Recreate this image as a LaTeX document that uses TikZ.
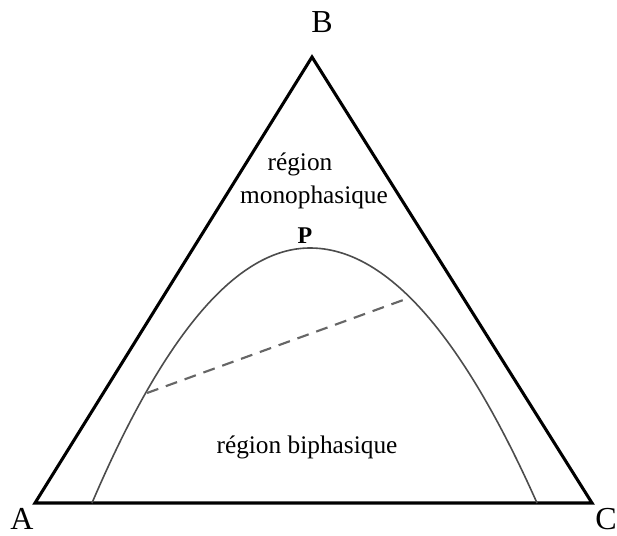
\documentclass[tikz,border=0pt]{standalone}
\usepackage{fontspec}
\setmainfont{Liberation Serif}
\begin{document}
\begin{tikzpicture}[x=0.75pt,y=-0.75pt,
  tri/.style={line width=2.3pt,line join=miter},
  curv/.style={line width=1.2pt,draw=black!70},
  tie/.style={line width=1.6pt,draw=black!60,dash pattern=on 9pt off 6pt},
  vlabel/.style={font=\fontsize{24}{28}\selectfont,anchor=base,inner sep=0pt},
  rlabel/.style={font=\fontsize{19}{24}\selectfont,anchor=base,inner sep=0pt}]
\useasboundingbox (0,0) rectangle (617,535);
\coordinate (A) at (35,503);
\coordinate (B) at (312,57);
\coordinate (C) at (592,503);
\draw[tri] (A) -- (B) -- (C) -- cycle;
\coordinate (L) at (92,503);
\coordinate (P) at (310,248);
\coordinate (R) at (537,503);
\draw[curv] (L) .. controls (164.7,333) and (237.3,248) .. (P)
            .. controls (385.7,248) and (461.3,333) .. (R);
\coordinate (t1) at (147,393);
\coordinate (t2) at (406,299);
\draw[tie] (t1) -- (t2);
\node[vlabel] (lA) at (22,529) {A};
\node[vlabel] (lB) at (322,33) {B};
\node[vlabel,anchor=base west] (lC) at (595,529) {C};
\node[rlabel] (m1) at (300,170) {région};
\node[rlabel] (m2) at (314,203) {monophasique};
\node[rlabel,font=\fontsize{18}{22}\selectfont\bfseries] (lP) at (305,243) {P};
\node[rlabel] (bi) at (307,453) {région biphasique};
\end{tikzpicture}
\end{document}
